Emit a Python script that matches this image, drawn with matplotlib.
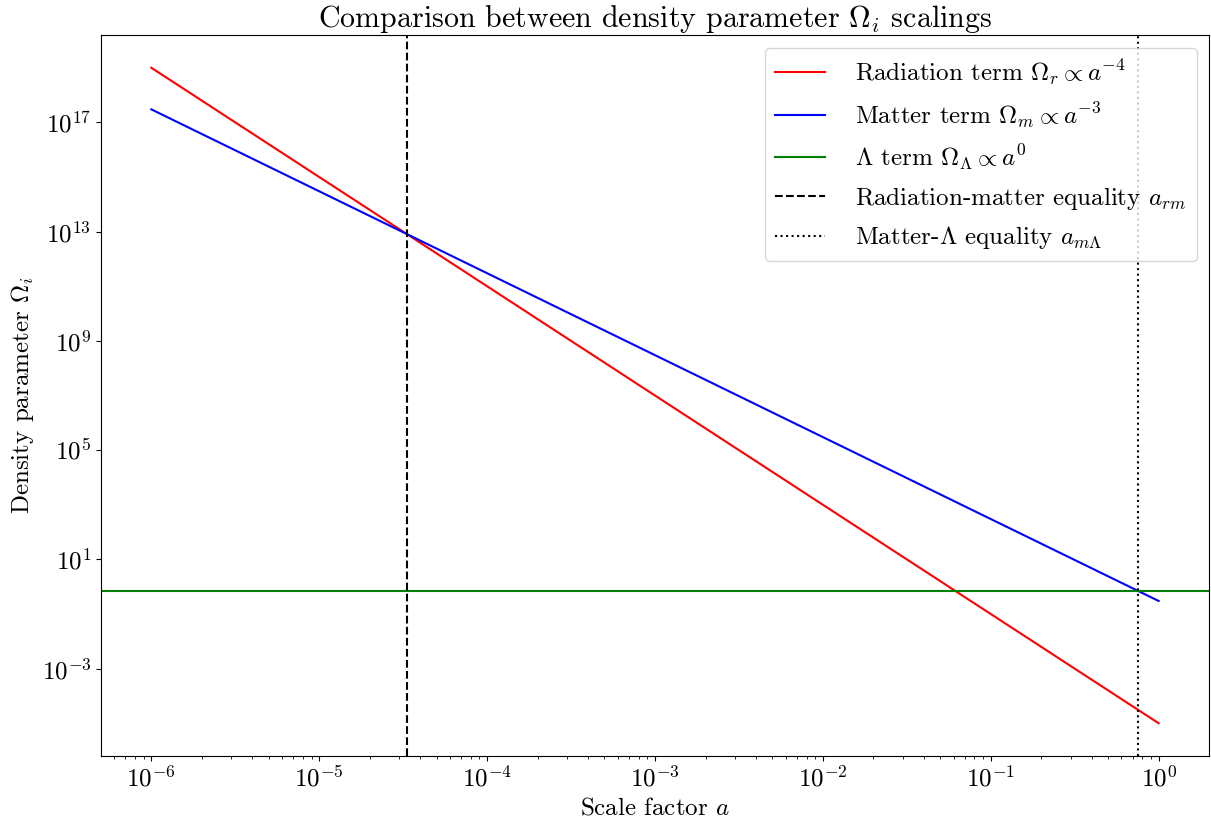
import matplotlib
matplotlib.use("Agg")
import matplotlib.pyplot as plt
from matplotlib.ticker import NullLocator

# Style: Computer Modern look
plt.rcParams["font.family"] = "serif"
plt.rcParams["font.serif"] = ["cmr10"]
plt.rcParams["mathtext.fontset"] = "cm"
plt.rcParams["axes.formatter.use_mathtext"] = True
plt.rcParams["font.size"] = 18

# Data
a_ends = [1e-6, 1.0]
omega_rad = [1e19, 1e-5]
omega_mat = [3e17, 0.3]
omega_lambda = 0.7
a_rm = 3.33e-5
a_mL = 0.754
y_ticks = [1e-3, 1e1, 1e5, 1e9, 1e13, 1e17]

fig = plt.figure(figsize=(12.11, 8.24), dpi=100)
ax = fig.add_axes([101 / 1211, 1 - 756 / 824, 1108 / 1211, 721 / 824])

ax.loglog(a_ends, omega_rad, color="red", label=r"Radiation term $\Omega_r \propto a^{-4}$")
ax.loglog(a_ends, omega_mat, color="blue", label=r"Matter term $\Omega_m \propto a^{-3}$")
ax.axhline(omega_lambda, color="green", label=r"$\Lambda$ term $\Omega_\Lambda \propto a^{0}$")
ax.axvline(a_rm, color="black", linestyle="--", label=r"Radiation-matter equality $a_{rm}$")
ax.axvline(a_mL, color="black", linestyle=":", label=r"Matter-$\Lambda$ equality $a_{m\Lambda}$")

ax.set_yticks(y_ticks)
ax.yaxis.set_minor_locator(NullLocator())

ax.set_xlabel(r"Scale factor $a$")
ax.set_ylabel(r"Density parameter $\Omega_i$")
ax.set_title(r"Comparison between density parameter $\Omega_i$ scalings")
ax.legend(loc="upper right", handletextpad=1.2)

fig.savefig("out.png", dpi=100)
